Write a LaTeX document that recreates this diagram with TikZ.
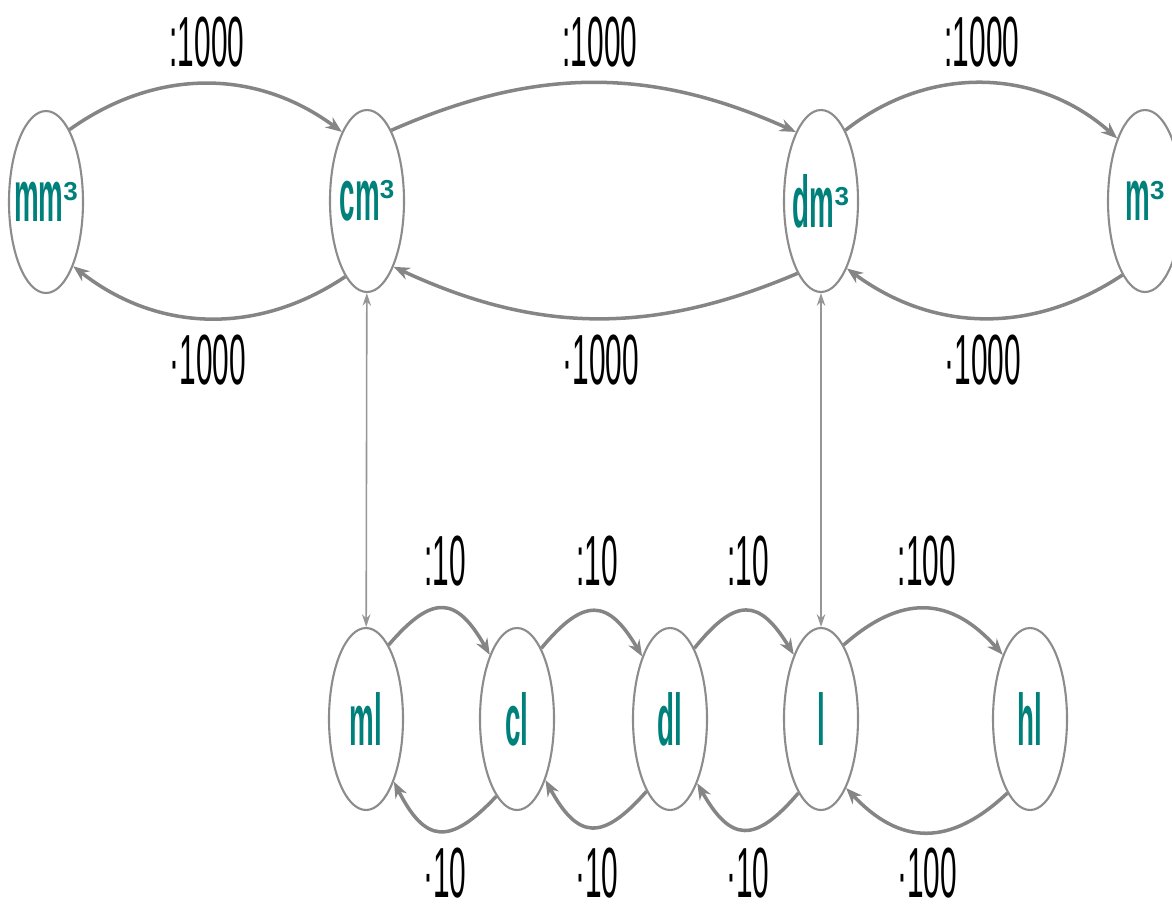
\documentclass[tikz,border=0pt]{standalone}
\usepackage{fontspec}
\usepackage{tikz}
\usetikzlibrary{shapes.geometric,arrows.meta,positioning}

\newfontfamily\narrowsans[FakeStretch=0.42]{Liberation Sans}
\newfontfamily\unitsans[FakeStretch=0.38]{Liberation Sans}
\newfontfamily\plainsans{Liberation Sans}
\definecolor{unitteal}{RGB}{0,128,122}
\definecolor{arcgray}{RGB}{133,133,133}
\definecolor{rimgray}{RGB}{140,140,140}
\definecolor{linkgray}{RGB}{150,150,150}

\newcommand{\cubic}{\raisebox{6.2pt}{\plainsans\bfseries\fontsize{7.4pt}{8pt}\selectfont 3}}
\newcommand{\unitname}[1]{\makebox[0pt]{#1}}

\tikzset{
    unit/.style={ellipse, draw=rimgray, line width=0.6pt, minimum width=0.74cm,
        minimum height=1.82cm, inner sep=0pt, text=unitteal,
        font=\unitsans\bfseries\fontsize{20.8pt}{22pt}\selectfont},
    conv/.style={draw=arcgray, line width=1pt, -{Stealth[length=4.6pt,width=3.6pt]}},
    link/.style={draw=linkgray, line width=0.45pt,
        {Stealth[length=3.6pt,width=2.4pt]}-{Stealth[length=3.6pt,width=2.4pt]}},
    factor/.style={inner sep=0pt, font=\narrowsans\fontsize{20.2pt}{22pt}\selectfont}
}

\begin{document}
\begin{tikzpicture}
\useasboundingbox (0,0) rectangle (11.72,9.05);

% Cubic units
\node[unit] (mm3) at (0.46,7.03) {\unitname{mm\cubic}};
\node[unit] (cm3) at (3.67,7.04) {\unitname{cm\cubic}};
\node[unit] (dm3) at (8.21,7.04) {\unitname{dm\cubic}};
\node[unit] (m3) at (11.45,7.04) {\unitname{m\cubic}};

% Litre units
\foreach \name/\x in {ml/3.66, cl/5.17, dl/6.70, l/8.21, hl/10.30} {
    \node[unit] (\name) at (\x,1.86) {\unitname{\name}};
}

% Dividing (upper arcs)
\draw[conv] (mm3.72) to[bend left=36] (cm3.110);
\draw[conv] (cm3.71) to[bend left=24] (dm3.110);
\draw[conv] (dm3.71) to[bend left=40] (m3.114);

% Multiplying (lower arcs)
\draw[conv] (cm3.254) to[bend left=36] (mm3.293);
\draw[conv] (dm3.252) to[bend left=24] (cm3.292);
\draw[conv] (m3.253) to[bend left=35] (dm3.291);

% Litre row
\draw[conv] (ml.73) to[bend left=55, looseness=1.7] (cl.113);
\draw[conv] (cl.71) to[bend left=55, looseness=1.7] (dl.114);
\draw[conv] (dl.71) to[bend left=55, looseness=1.7] (l.113);
\draw[conv] (l.73) to[bend left=45, looseness=1.25] (hl.113);
\draw[conv] (cl.255) to[bend left=55, looseness=1.7] (ml.294);
\draw[conv] (dl.252) to[bend left=55, looseness=1.7] (cl.295);
\draw[conv] (l.253) to[bend left=55, looseness=1.7] (dl.293);
\draw[conv] (hl.253) to[bend left=45, looseness=1.25] (l.290);

% Same volume
\draw[link] (cm3) -- (ml);
\draw[link] (dm3) -- (l);

% Factors, cubic row
\foreach \x/\n in {2.07/1, 6.00/2, 9.82/3} {
    \node[factor] (div\n) at (\x,8.63) {:1000};
    \node[factor] (mul\n) at (\x+0.01,5.45) {·1000};
}

% Factors, litre row
\foreach \x/\n/\f in {4.45/4/10, 5.97/5/10, 7.48/6/10, 9.27/7/100} {
    \node[factor] (div\n) at (\x,3.44) {:\f};
    \node[factor] (mul\n) at (\x,0.32) {·\f};
}

\end{tikzpicture}
\end{document}
